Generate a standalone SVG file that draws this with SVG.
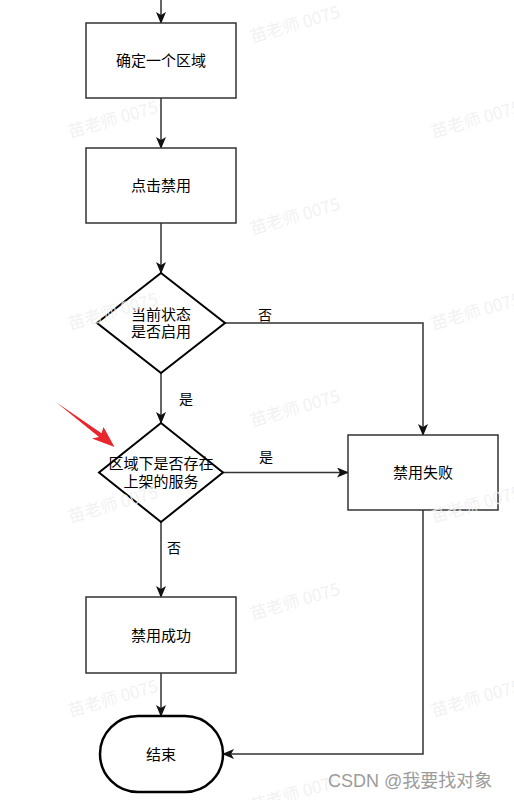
<svg xmlns="http://www.w3.org/2000/svg" width="514" height="800" viewBox="0 0 514 800">
<defs>
<style>
.box{fill:#fff;stroke:#333;stroke-width:1.5}
.dia{fill:#fff;stroke:#000;stroke-width:2}
.term{fill:#fff;stroke:#000;stroke-width:2.5}
.t{font-family:"Noto Sans CJK SC","Noto Sans",sans-serif;font-size:15px;fill:#000;text-anchor:middle}
.lbl{font-family:"Noto Sans CJK SC","Noto Sans",sans-serif;font-size:14px;fill:#000;text-anchor:middle}
.edge{fill:none;stroke:#333;stroke-width:1.5}
.wm{font-family:"Noto Sans CJK SC","Noto Sans",sans-serif;font-size:17px;fill:#efefef;fill-opacity:0.85}
</style>
<marker id="arr" viewBox="0 0 12 10" refX="11" refY="5" markerWidth="12" markerHeight="10" markerUnits="userSpaceOnUse" orient="auto">
<path d="M0,0 L12,5 L0,10 L3,5 Z" fill="#111"/>
</marker>
</defs>
<rect width="514" height="800" fill="#fff"/>
<g id="connectors">
<path class="edge" d="M161,0 V23" marker-end="url(#arr)"/>
<path class="edge" d="M161,98 V148" marker-end="url(#arr)"/>
<path class="edge" d="M161,223 V273" marker-end="url(#arr)"/>
<path class="edge" d="M161,373 V423" marker-end="url(#arr)"/>
<path class="edge" d="M225,323 H423 V435" marker-end="url(#arr)"/>
<path class="edge" d="M223,472.5 H348" marker-end="url(#arr)"/>
<path class="edge" d="M161,522 V597" marker-end="url(#arr)"/>
<path class="edge" d="M161,673 V716" marker-end="url(#arr)"/>
<path class="edge" d="M423,510 V754 H223" marker-end="url(#arr)"/>
<text class="lbl" x="186" y="403.5">是</text>
<text class="lbl" x="265" y="319.5">否</text>
<text class="lbl" x="266" y="462">是</text>
<text class="lbl" x="174" y="552.5">否</text>
</g>
<g id="n1"><rect class="box" x="86" y="23" width="150" height="75"/><text class="t" x="161" y="66">确定一个区域</text></g>
<g id="n2"><rect class="box" x="86" y="148" width="150" height="75"/><text class="t" x="161" y="191">点击禁用</text></g>
<g id="d1"><polygon class="dia" points="161,273 225,323 161,373 97,323"/><text class="t"><tspan x="161" y="320">当前状态</tspan><tspan x="161" y="337">是否启用</tspan></text></g>
<g id="d2"><polygon class="dia" points="161,423 223,472.5 161,522 99,472.5"/><text class="t"><tspan x="161" y="469">区域下是否存在</tspan><tspan x="161" y="486.5">上架的服务</tspan></text></g>
<g id="fail"><rect class="box" x="348" y="435" width="150" height="75"/><text class="t" x="423" y="478">禁用失败</text></g>
<g id="ok"><rect class="box" x="86" y="597" width="150" height="76"/><text class="t" x="161" y="640.5">禁用成功</text></g>
<g id="end"><rect class="term" x="100" y="716" width="123" height="76" rx="38" ry="38"/><text class="t" x="161" y="760">结束</text></g>
<g id="red-arrow"><polygon points="56.5,402.5 101.5,433.3 103.5,427 114.5,447 92,438.5 99,437" fill="#e8262b"/></g>
<g id="watermarks">
<text class="wm" transform="translate(252,43) rotate(-16)">苗老师 0075</text>
<text class="wm" transform="translate(252,235) rotate(-16)">苗老师 0075</text>
<text class="wm" transform="translate(252,427) rotate(-16)">苗老师 0075</text>
<text class="wm" transform="translate(252,620) rotate(-16)">苗老师 0075</text>
<text class="wm" transform="translate(252,812) rotate(-16)">苗老师 0075</text>
<text class="wm" transform="translate(70,138) rotate(-16)">苗老师 0075</text>
<text class="wm" transform="translate(70,330) rotate(-16)">苗老师 0075</text>
<text class="wm" transform="translate(70,523) rotate(-16)">苗老师 0075</text>
<text class="wm" transform="translate(70,717) rotate(-16)">苗老师 0075</text>
<text class="wm" transform="translate(433,138) rotate(-16)">苗老师 0075</text>
<text class="wm" transform="translate(433,330) rotate(-16)">苗老师 0075</text>
<text class="wm" transform="translate(433,523) rotate(-16)">苗老师 0075</text>
<text class="wm" transform="translate(433,717) rotate(-16)">苗老师 0075</text>
</g>
<text x="328" y="787" font-family="'Liberation Sans','Noto Sans CJK SC',sans-serif" font-size="18" fill="#9c9c9c">CSDN @我要找对象</text>
</svg>
